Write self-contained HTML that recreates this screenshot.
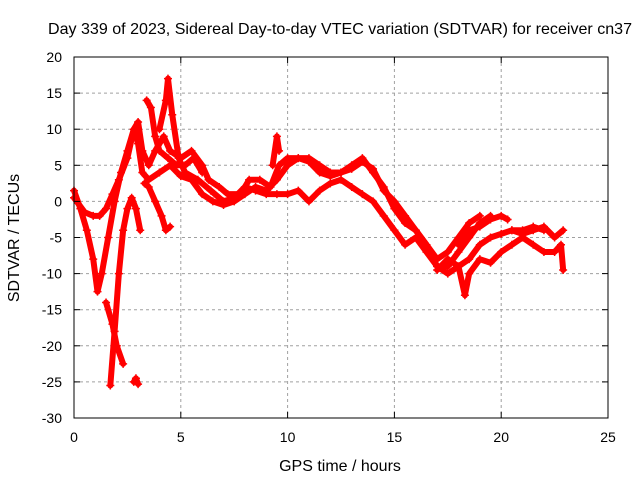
<!DOCTYPE html>
<html><head><meta charset="utf-8"><style>
body{margin:0;background:#fff;}
svg{display:block;font-family:"Liberation Sans",sans-serif;}
</style></head><body>
<svg id="chart" width="640" height="480">
<rect width="640" height="480" fill="#fff"/>
<text x="340" y="34" font-size="16" text-anchor="middle" textLength="584" lengthAdjust="spacingAndGlyphs">Day 339 of 2023, Sidereal Day-to-day VTEC variation (SDTVAR) for receiver cn37</text>
<g id="grid"></g>
<g id="series"></g>
<g id="axes"></g>
<text x="340" y="471" font-size="16" text-anchor="middle">GPS time / hours</text>
<text transform="translate(19,238) rotate(-90)" font-size="16" text-anchor="middle">SDTVAR / TECUs</text>
</svg>
<script>
const xTicks=[0,5,10,15,20,25];
const yTicks=[20,15,10,5,0,-5,-10,-15,-20,-25,-30];
const trace1=[[0,1.5],[0.3,-1],[0.6,-4],[0.9,-8],[1.1,-12.5],[1.3,-10],[1.6,-5],[1.9,0],[2.2,4],[2.5,7],[2.8,10],[3.0,8],[3.2,4],[3.5,3],[4.0,4],[4.5,5],[5,3.5],[5.5,3],[6,1],[6.5,0],[7,-0.5],[7.5,0],[8,1],[8.5,2],[9,1.5],[9.5,3],[10,5],[10.5,6],[11,5.5],[11.5,4],[12,3.5],[12.5,4],[13,5],[13.5,6],[14,4],[14.5,2],[15,-1],[15.5,-3],[16,-4],[16.5,-6],[17,-8],[17.5,-7],[18,-5],[18.5,-3],[19,-2]];
const trace2=[[0,0.5],[0.5,-1.5],[0.9,-2],[1.2,-2],[1.5,-1],[1.8,1],[2.1,3],[2.5,6],[2.8,10],[3.0,11],[3.2,7],[3.5,5],[3.8,7],[4.2,9],[4.5,7],[5,6],[5.5,7],[6,5],[6.3,3],[6.8,2],[7.2,1],[7.8,1],[8.2,3],[8.7,3],[9.2,2],[9.6,5],[10,6],[10.5,6],[11,6],[11.5,5],[12,4],[12.5,4],[13,4.5],[13.5,5.5],[14,4.5],[14.5,1.5],[15,0],[15.5,-2],[16,-4],[16.5,-6],[17,-9],[17.5,-9],[18,-7],[18.5,-5],[19,-3],[19.5,-2]];
const trace3=[[1.7,-25.5],[1.9,-18],[2.1,-10],[2.3,-4],[2.5,-1],[2.7,0.5],[2.9,-1],[3.1,-4]];
const trace4=[[1.5,-14],[1.8,-17],[2.0,-20],[2.3,-22.5]];
const trace5=[[2.8,-25],[2.9,-24.5],[3.0,-25.3]];
const trace6=[[3.3,2.5],[3.5,2],[3.8,0],[4.1,-2],[4.3,-4],[4.5,-3.5]];
const trace7=[[4,10],[4.3,14],[4.4,17],[4.6,12],[4.9,6],[5.2,4],[5.8,3],[6.4,1.5],[7,0],[7.5,0.5],[8,2],[8.5,1.5],[9,1],[9.5,1],[10,1],[10.5,1.5],[11,0],[11.5,1.5],[12,2.5],[12.5,3],[13,2],[13.5,1],[14,0],[14.5,-2],[15,-4],[15.5,-6],[16,-5],[16.5,-7],[17,-9],[17.5,-10],[18,-9],[18.5,-8],[19,-6],[19.5,-5],[20,-4.5],[20.5,-4],[21,-4],[21.5,-3.5],[22,-4]];
const trace8=[[3.4,14],[3.6,13],[3.8,9],[4.0,7],[4.4,6],[4.8,5],[5.2,5],[5.6,6],[6,4]];
const trace9=[[17,-9.5],[17.5,-8],[18,-9],[18.3,-13],[18.5,-10],[19,-8],[19.5,-8.5],[20,-7],[20.5,-6],[21,-5],[21.5,-6],[22,-7],[22.5,-7],[22.8,-6],[22.9,-9.5]];
const trace10=[[18,-6],[18.5,-4],[19,-3.5],[19.5,-2.5],[20,-2],[20.3,-2.5]];
const trace11=[[20.5,-4],[21,-4.5],[21.5,-4],[22,-3.5],[22.5,-5],[22.9,-4]];
const trace12=[[9.3,5],[9.5,9],[9.6,7]];
const traces=[trace1,trace2,trace3,trace4,trace5,trace6,trace7,trace8,trace9,trace10,trace11,trace12];

const L=74,R=608,T=57,B=418;
const X=v=>L+(v-0)/(25-0)*(R-L);
const Y=v=>T+(20-v)/(20-(-30))*(B-T);
const NS="http://www.w3.org/2000/svg";
const mk=(t,a)=>{const e=document.createElementNS(NS,t);for(const k in a)e.setAttribute(k,a[k]);return e;};
const grid=document.getElementById('grid'),axes=document.getElementById('axes'),ser=document.getElementById('series');
xTicks.forEach(t=>{
  if(t>0&&t<25){const g=mk('line',{x1:X(t),x2:X(t),y1:T,y2:B,stroke:'#a0a0a0','stroke-dasharray':'3,3'});
  
  grid.appendChild(g);}
  const tx=mk('text',{x:X(t),y:B+24,'font-size':14,'text-anchor':'middle'});tx.textContent=t;
  
  axes.appendChild(tx);
  axes.appendChild(mk('line',{x1:X(t),x2:X(t),y1:B,y2:B-6,stroke:'#000'}));
  axes.appendChild(mk('line',{x1:X(t),x2:X(t),y1:T,y2:T+6,stroke:'#000'}));
});
yTicks.forEach(t=>{
  if(t<20&&t>-30){const g=mk('line',{x1:L,x2:R,y1:Y(t),y2:Y(t),stroke:'#a0a0a0','stroke-dasharray':'3,3'});
  
  grid.appendChild(g);}
  const tx=mk('text',{x:L-12,y:Y(t)+5,'font-size':14,'text-anchor':'end'});tx.textContent=t;
  
  axes.appendChild(tx);
  axes.appendChild(mk('line',{x1:L,x2:L+6,y1:Y(t),y2:Y(t),stroke:'#000'}));
  axes.appendChild(mk('line',{x1:R,x2:R-6,y1:Y(t),y2:Y(t),stroke:'#000'}));
});
const frame=mk('rect',{x:L,y:T,width:R-L,height:B-T,fill:'none',stroke:'#000'});


axes.appendChild(frame);
traces.forEach(tr=>{
  const pl=mk('polyline',{points:tr.map(p=>X(p[0])+','+Y(p[1])).join(' '),fill:'none',stroke:'#ff0000','stroke-width':6,'stroke-linejoin':'round','stroke-linecap':'round'});
  
  
  ser.appendChild(pl);
  tr.forEach(p=>{
    const x=X(p[0]),y=Y(p[1]);
    const m=mk('path',{d:`M${x-4},${y}H${x+4}M${x},${y-4}V${y+4}`,stroke:'#ff0000','stroke-width':1.5});
    
    
    ser.appendChild(m);
  });
});
</script>
</body></html>
